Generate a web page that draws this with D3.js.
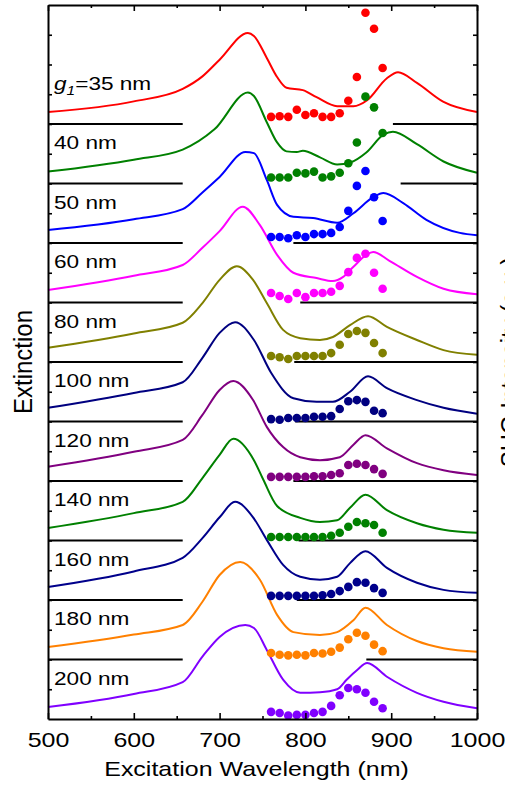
<!DOCTYPE html>
<html>
<head>
<meta charset="utf-8">
<script src="https://cdn.jsdelivr.net/npm/d3@7"></script>
<style>
  html, body { margin: 0; padding: 0; background: #fff; }
  svg { display: block; font-family: "Liberation Sans", Arial, sans-serif; }
</style>
</head>
<body>
<div id="chart"></div>
<script>
// gap sizes, top panel first
const gapLabels = ['35', '40', '50', '60', '80', '100', '120', '140', '160', '180', '200'];
const offsets = [10, 9, 8, 7, 6, 5, 4, 3, 2, 1, 0];
const colors = ['#ff0000', '#008000', '#0000ff', '#ff00ff', '#808000', '#000080',
                '#800080', '#008000', '#00008b', '#ff8000', '#8000ff'];

// extinction spectra [wavelength nm, extinction above own baseline]
const ext35 = [[500,0.20],[600,0.38],[657,0.59],[680,0.80],[700,1.08],[733,1.53],[740,1.48],[755,1.11],[767,0.79],[778,0.61],[797,0.57],[813,0.45],[837,0.30],[856,0.30],[872,0.40],[895,0.77],[908,0.87],[930,0.69],[961,0.37],[1000,0.20]];
const ext40 = [[500,0.20],[600,0.40],[657,0.57],[694,0.91],[733,1.53],[740,1.47],[755,1.03],[767,0.69],[778,0.54],[790,0.53],[797,0.55],[817,0.44],[837,0.32],[852,0.35],[871,0.52],[891,0.82],[902,0.87],[930,0.66],[961,0.37],[1000,0.18]];
const ext50 = [[500,0.22],[600,0.40],[657,0.57],[680,0.85],[700,1.11],[730,1.53],[740,1.51],[755,1.06],[767,0.64],[786,0.44],[809,0.42],[837,0.34],[856,0.50],[879,0.77],[891,0.84],[914,0.67],[941,0.39],[980,0.17],[1000,0.13]];
const ext60 = [[500,0.21],[600,0.45],[657,0.63],[680,0.92],[700,1.20],[727,1.61],[747,1.30],[767,0.80],[786,0.50],[813,0.41],[832,0.36],[844,0.43],[856,0.60],[871,0.80],[879,0.85],[898,0.70],[930,0.43],[961,0.23],[1000,0.14]];
const ext80 = [[500,0.24],[600,0.48],[657,0.66],[680,0.99],[700,1.38],[720,1.61],[739,1.38],[755,0.99],[774,0.54],[794,0.40],[817,0.37],[832,0.42],[852,0.62],[873,0.77],[895,0.59],[930,0.37],[961,0.20],[1000,0.12]];
const ext100 = [[500,0.23],[600,0.48],[657,0.66],[680,1.07],[700,1.49],[718,1.67],[740,1.37],[760,0.82],[786,0.39],[813,0.33],[832,0.33],[852,0.50],[873,0.76],[895,0.56],[930,0.36],[961,0.23],[1000,0.13]];
const ext120 = [[500,0.24],[600,0.49],[657,0.69],[680,1.11],[700,1.53],[716,1.68],[739,1.36],[755,0.91],[774,0.57],[794,0.40],[817,0.35],[840,0.40],[856,0.61],[870,0.77],[895,0.55],[930,0.30],[961,0.18],[1000,0.10]];
const ext140 = [[500,0.21],[600,0.46],[657,0.65],[680,1.05],[700,1.44],[716,1.71],[740,1.35],[751,1.02],[767,0.58],[794,0.38],[817,0.31],[837,0.34],[852,0.55],[870,0.77],[895,0.51],[930,0.29],[961,0.18],[1000,0.13]];
const ext160 = [[500,0.22],[600,0.48],[657,0.71],[680,1.04],[700,1.39],[718,1.65],[739,1.39],[755,1.01],[774,0.59],[794,0.39],[817,0.34],[837,0.39],[852,0.62],[870,0.82],[895,0.54],[930,0.29],[961,0.17],[1000,0.12]];
const ext180 = [[500,0.21],[600,0.42],[657,0.58],[680,0.97],[700,1.42],[724,1.64],[747,1.34],[767,0.75],[786,0.46],[817,0.41],[837,0.46],[856,0.66],[870,0.87],[895,0.58],[930,0.31],[961,0.19],[1000,0.13]];
const ext200 = [[500,0.20],[600,0.42],[657,0.62],[680,1.05],[700,1.38],[730,1.58],[740,1.53],[755,1.16],[774,0.66],[794,0.44],[817,0.45],[837,0.50],[848,0.66],[860,0.82],[872,0.94],[895,0.71],[930,0.44],[961,0.29],[1000,0.18]];

// SHG intensity at the excitation wavelengths
const shgWavelengths = [760, 770, 780, 790, 800, 810, 820, 830, 840, 850, 860, 870, 880, 890];
const shg35 = [0.12,0.13,0.12,0.24,0.15,0.18,0.12,0.12,0.18,0.39,0.79,1.87,1.60,0.94];
const shg40 = [0.10,0.10,0.10,0.18,0.17,0.20,0.10,0.12,0.18,0.34,0.69,1.46,1.28,0.85];
const shg50 = [0.10,0.10,0.08,0.13,0.10,0.15,0.15,0.17,0.27,0.54,0.96,1.21,0.77,0.37];
const shg60 = [0.16,0.11,0.06,0.16,0.09,0.16,0.16,0.18,0.28,0.51,0.75,0.82,0.50,0.23];
const shg80 = [0.10,0.08,0.05,0.10,0.10,0.10,0.10,0.15,0.29,0.47,0.52,0.49,0.32,0.15];
const shg100 = [0.04,0.03,0.06,0.06,0.06,0.08,0.08,0.09,0.21,0.34,0.36,0.33,0.18,0.14];
const shg120 = [0.07,0.07,0.07,0.07,0.07,0.08,0.08,0.10,0.13,0.27,0.29,0.27,0.20,0.12];
const shg140 = [0.06,0.06,0.06,0.06,0.06,0.06,0.06,0.08,0.13,0.23,0.31,0.29,0.26,0.13];
const shg160 = [0.07,0.07,0.07,0.07,0.07,0.07,0.08,0.10,0.15,0.22,0.30,0.29,0.20,0.12];
const shg180 = [0.11,0.08,0.07,0.08,0.07,0.11,0.10,0.13,0.20,0.34,0.45,0.40,0.25,0.14];
const shg200 = [0.12,0.10,0.06,0.07,0.07,0.10,0.12,0.22,0.40,0.52,0.50,0.44,0.29,0.18];

// baseline rules: offset level, left part ends at 657 nm, right part starts at these wavelengths
const ruleLevels = [10, 9, 8, 7, 6, 5, 4, 3, 2, 1];
const ruleLeftEnd = 657;
const ruleRightStart = [902, 911, 786, 794, 787, 788, 786, 792, 790, 871];

const xMajor = [500, 600, 700, 800, 900, 1000];
const xMinor = [550, 650, 750, 850, 950];

const spectra = [ext35, ext40, ext50, ext60, ext80, ext100, ext120, ext140, ext160, ext180, ext200];
const shgSets = [shg35, shg40, shg50, shg60, shg80, shg100, shg120, shg140, shg160, shg180, shg200];

const W = 505, H = 787;
const margin = { left: 48, right: 28, top: 5, bottom: 68 };
const stretch = 1.19; // text in the figure is a bit wide

const svg = d3.select('#chart').append('svg')
    .attr('width', W)
    .attr('height', H);

const x = d3.scaleLinear().domain([500, 1000]).range([margin.left, W - margin.right]);
const y = d3.scaleLinear().domain([0, 12]).range([H - margin.bottom, margin.top]);
const ySHG = y.copy();

const halfSteps = d3.range(0.5, 12, 0.5);

// baseline rules
const rules = svg.append('g').attr('stroke', '#000').attr('stroke-width', 2);
ruleLevels.forEach((lvl, i) => {
    rules.append('line')
        .attr('x1', x(500)).attr('x2', x(ruleLeftEnd))
        .attr('y1', y(lvl)).attr('y2', y(lvl));
    rules.append('line')
        .attr('x1', x(ruleRightStart[i])).attr('x2', x(1000))
        .attr('y1', y(lvl)).attr('y2', y(lvl));
});

// extinction curves
const line = d3.line()
    .x(d => x(d[0]))
    .y(d => y(d[1]))
    .curve(d3.curveMonotoneX);

spectra.forEach((s, i) => {
    svg.append('path')
        .datum(s.map(d => [d[0], d[1] + offsets[i]]))
        .attr('fill', 'none')
        .attr('stroke', colors[i])
        .attr('stroke-width', 2)
        .attr('stroke-linejoin', 'round')
        .attr('d', line);
});

// SHG dots
shgSets.forEach((s, i) => {
    svg.append('g')
        .selectAll('circle')
        .data(s)
        .enter()
        .append('circle')
        .attr('cx', (d, j) => x(shgWavelengths[j]))
        .attr('cy', d => ySHG(d + offsets[i]))
        .attr('r', 4.3)
        .attr('fill', colors[i]);
});

// axes
function styleAxis(g) {
    g.selectAll('.domain').attr('stroke', '#000').attr('stroke-width', 2);
    g.selectAll('.tick line').attr('stroke', '#000').attr('stroke-width', 1.6);
}

svg.append('g')
    .attr('transform', `translate(0,${y(0)})`)
    .call(d3.axisBottom(x).tickValues(xMajor).tickFormat(d3.format('d'))
        .tickSizeInner(-6).tickSizeOuter(0).tickPadding(13))
    .call(styleAxis)
    .call(g => g.selectAll('text')
        .attr('font-size', 21)
        .attr('fill', '#000')
        .attr('font-family', '"Liberation Sans", Arial, sans-serif')
        .attr('transform', `scale(${stretch},1)`));

svg.append('g')
    .attr('transform', `translate(0,${y(0)})`)
    .call(d3.axisBottom(x).tickValues(xMinor).tickSize(-3).tickFormat(''))
    .call(styleAxis)
    .call(g => g.select('.domain').remove());

svg.append('g')
    .attr('transform', `translate(0,${y(12)})`)
    .call(d3.axisTop(x).tickValues(xMajor).tickSizeInner(-6).tickSizeOuter(0).tickFormat(''))
    .call(styleAxis);

svg.append('g')
    .attr('transform', `translate(0,${y(12)})`)
    .call(d3.axisTop(x).tickValues(xMinor).tickSize(-3).tickFormat(''))
    .call(styleAxis)
    .call(g => g.select('.domain').remove());

svg.append('g')
    .attr('transform', `translate(${x(500)},0)`)
    .call(d3.axisLeft(y).tickValues(halfSteps).tickSizeInner(-4).tickSizeOuter(0).tickFormat(''))
    .call(styleAxis);

svg.append('g')
    .attr('transform', `translate(${x(1000)},0)`)
    .call(d3.axisRight(ySHG).tickValues(halfSteps).tickSizeInner(-4).tickSizeOuter(0).tickFormat(''))
    .call(styleAxis);

// axis titles
svg.append('text')
    .attr('transform', `translate(${x(750) - 6},776) scale(${stretch},1)`)
    .attr('text-anchor', 'middle')
    .attr('font-size', 21)
    .text('Excitation Wavelength (nm)');

svg.append('text')
    .attr('transform', `translate(32,${y(6)}) scale(1.1,1) rotate(-90)`)
    .attr('text-anchor', 'middle')
    .attr('font-size', 24)
    .text('Extinction');

svg.append('text')
    .attr('transform', `translate(519,${y(6)}) scale(1.1,1) rotate(-90)`)
    .attr('text-anchor', 'middle')
    .attr('font-size', 24)
    .text('SHG Intensity (a.u.)');

// panel labels
gapLabels.forEach((g, i) => {
    const t = svg.append('text')
        .attr('transform', `translate(54,${y(offsets[i] + 1) + 25}) scale(${stretch},1)`)
        .attr('font-size', 19);
    if (i === 0) {
        t.append('tspan').attr('font-style', 'italic').text('g');
        t.append('tspan').attr('font-style', 'italic').attr('font-size', 13).attr('dy', 5).text('1');
        t.append('tspan').attr('dy', -5).text('=' + g + ' nm');
    } else {
        t.text(g + ' nm');
    }
});
</script>
</body>
</html>
